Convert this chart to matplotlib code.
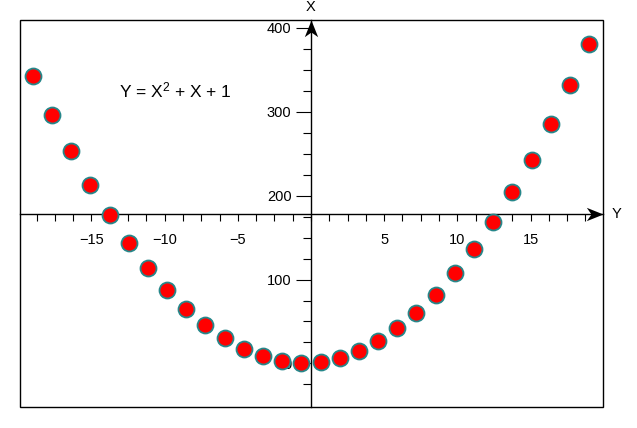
import matplotlib
matplotlib.use("Agg")
import matplotlib.pyplot as plt
from matplotlib.ticker import FixedLocator, MultipleLocator
from matplotlib.path import Path
from matplotlib.patches import Rectangle
import matplotlib.transforms as mtransforms

plt.rcParams['font.family'] = ['Liberation Sans', 'DejaVu Sans']
plt.rcParams['mathtext.default'] = 'regular'

# data
x_vals = [-19.000, -17.690, -16.379, -15.069, -13.759, -12.448, -11.138, -9.828,
          -8.517, -7.207, -5.897, -4.586, -3.276, -1.966, -0.655, 0.655, 1.966,
          3.276, 4.586, 5.897, 7.207, 8.517, 9.828, 11.138, 12.448, 13.759,
          15.069, 16.379, 17.690, 19.000]
y_vals = [343.0, 296.25, 252.89, 213.0, 176.55, 143.5, 113.91, 87.76, 65.02,
          45.73, 29.87, 17.44, 8.45, 2.90, 0.77, 2.08, 6.83, 15.01, 26.62, 41.67,
          60.15, 82.06, 107.42, 136.19, 168.40, 204.07, 243.14, 285.65, 331.63, 381.0]
x_major = [-15, -10, -5, 5, 10, 15]
y_major = [0, 100, 200, 300, 400]
y_minor = [-25, 25, 50, 75, 125, 150, 175, 225, 250, 275, 325, 350, 375]
title_text = 'Y = X$^{2}$ + X + 1'
xaxis_name = 'Y'
yaxis_name = 'X'
x_cross = 178.6   # where the horizontal axis crosses

fig = plt.figure(figsize=(6.37, 4.28), dpi=100)
ax = fig.add_axes([20/637, 21/428, 583/637, 387/428])
ax.set_xlim(-19.88, 19.95)
ax.set_ylim(-52, 409.5)

ax.spines['top'].set_visible(False)
ax.spines['right'].set_visible(False)
ax.spines['left'].set_position(('data', 0))
ax.spines['bottom'].set_position(('data', x_cross))
for s in ('left', 'bottom'):
    ax.spines[s].set_linewidth(1.0)
    ax.spines[s].set_color('black')

# frame box
ax.add_patch(Rectangle((0, 0), 1, 1, transform=ax.transAxes, fill=False,
                       edgecolor='black', linewidth=1.0, clip_on=False, zorder=2.6))

ax.xaxis.set_major_locator(FixedLocator(x_major))
ax.xaxis.set_minor_locator(MultipleLocator(1.25))
ax.yaxis.set_major_locator(FixedLocator(y_major))
ax.yaxis.set_minor_locator(FixedLocator(y_minor))
ax.set_xticklabels([str(v).replace('-', '\u2212') for v in x_major])
ax.set_yticklabels([str(v) for v in y_major])

ax.tick_params(axis='x', which='both', direction='out', length=5, width=0.8,
               pad=9, labelsize=10.5)
ax.tick_params(axis='y', which='major', direction='out', length=11, width=0.8,
               pad=3, labelsize=10.5)
ax.tick_params(axis='y', which='minor', direction='out', length=6, width=0.8)

ax.plot(x_vals, y_vals, linestyle='none', marker='o', markersize=11.5,
        markerfacecolor='#ff0000', markeredgecolor='#26878a', markeredgewidth=1.3,
        zorder=3)

# arrow heads
right_arrow = Path([(0, 0), (-1, 0.4), (-0.72, 0), (-1, -0.4), (0, 0)],
                   [Path.MOVETO, Path.LINETO, Path.LINETO, Path.LINETO, Path.CLOSEPOLY])
up_arrow = Path([(0, 0), (0.4, -1), (0, -0.72), (-0.4, -1), (0, 0)],
                [Path.MOVETO, Path.LINETO, Path.LINETO, Path.LINETO, Path.CLOSEPOLY])
tr_h = mtransforms.blended_transform_factory(ax.transAxes, ax.transData)
tr_v = mtransforms.blended_transform_factory(ax.transData, ax.transAxes)
ax.plot([1], [x_cross], transform=tr_h, marker=right_arrow, markersize=24,
        color='black', markeredgewidth=0, clip_on=False, zorder=4)
ax.plot([0], [1], transform=tr_v, marker=up_arrow, markersize=24,
        color='black', markeredgewidth=0, clip_on=False, zorder=4)

# axis names
ax.annotate(xaxis_name, xy=(1.0, x_cross), xycoords=tr_h, xytext=(6, 0),
            textcoords='offset points', ha='left', va='center', fontsize=10.5)
ax.annotate(yaxis_name, xy=(0, 1.0), xycoords=tr_v, xytext=(0, 4.5),
            textcoords='offset points', ha='center', va='bottom', fontsize=10.5)

ax.text(0.266, 0.819, title_text, transform=ax.transAxes, ha='center',
        va='center', fontsize=12.5)

fig.savefig('out.png', dpi=100)
